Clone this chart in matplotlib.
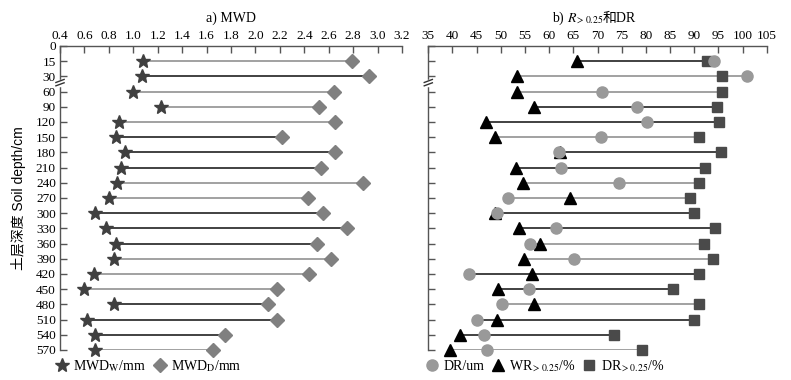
import numpy as np
import matplotlib.pyplot as plt
from matplotlib.lines import Line2D

plt.rcParams['font.family'] = ['Liberation Serif', 'Noto Sans CJK SC']
plt.rcParams['mathtext.fontset'] = 'stix'

# depth ticks (0 is only a tick, no data)
depth_labels = ['0', '15', '30', '60', '90', '120', '150', '180', '210', '240', '270',
                '300', '330', '360', '390', '420', '450', '480', '510', '540', '570']

# a) MWD
mwd_w = [1.08, 1.07, 1.00, 1.23, 0.88, 0.86, 0.93, 0.90, 0.87, 0.80,
         0.69, 0.78, 0.86, 0.84, 0.68, 0.60, 0.84, 0.62, 0.69, 0.69]
mwd_d = [2.79, 2.93, 2.64, 2.52, 2.65, 2.22, 2.65, 2.54, 2.88, 2.43,
         2.55, 2.75, 2.50, 2.62, 2.44, 2.18, 2.10, 2.18, 1.75, 1.65]

# b) R>0.25 and DR
dr_um = [94.1, 100.9, 71.0, 78.2, 80.2, 70.7, 62.1, 62.5, 74.5, 51.4,
         49.3, 61.4, 56.0, 65.2, 43.4, 55.8, 50.2, 45.0, 46.5, 47.1]
wr_025 = [65.8, 53.4, 53.4, 56.9, 46.9, 48.9, 62.2, 53.1, 54.5, 64.3,
          48.9, 53.8, 58.1, 54.7, 56.5, 49.4, 56.9, 49.2, 41.6, 39.5]
dr_025 = [92.7, 95.7, 95.7, 94.8, 95.2, 90.9, 95.5, 92.2, 90.9, 89.2,
          90.0, 94.3, 92.0, 93.8, 91.0, 85.7, 91.0, 90.0, 73.4, 79.3]

DK = '#333333'
LT = '#9a9a9a'
lines_a = [LT, DK, LT, LT, LT, DK, DK, DK, LT, LT,
           DK, DK, DK, LT, LT, LT, DK, DK, DK, LT]
lines_b = [DK, LT, LT, DK, DK, LT, DK, DK, LT, LT,
           DK, DK, LT, LT, DK, DK, LT, DK, DK, LT]

W, H = 791, 380
fig = plt.figure(figsize=(W / 100, H / 100), dpi=100)
ax1 = fig.add_axes([60 / W, 30 / H, 342 / W, 304 / H])
ax2 = fig.add_axes([428.3 / W, 30 / H, 338.4 / W, 304 / H])

ypos = np.arange(1, len(depth_labels))

# left panel
ax1.hlines(ypos, mwd_w, mwd_d, colors=lines_a, lw=1.3, zorder=1)
ax1.plot(mwd_w, ypos, ls='none', marker='*', ms=10.5, color='#404040', zorder=3, clip_on=False)
ax1.plot(mwd_d, ypos, ls='none', marker='D', ms=7, color='#808080', zorder=3, clip_on=False)

# right panel
lo = np.minimum(np.minimum(dr_um, wr_025), dr_025)
hi = np.maximum(np.maximum(dr_um, wr_025), dr_025)
ax2.hlines(ypos, lo, hi, colors=lines_b, lw=1.3, zorder=1)
ax2.plot(wr_025, ypos, ls='none', marker='^', ms=8.5, color='black', zorder=3, clip_on=False)
ax2.plot(dr_025, ypos, ls='none', marker='s', ms=6.5, color='#4a4a4a', zorder=4, clip_on=False)
ax2.plot(dr_um, ypos, ls='none', marker='o', ms=8, color='#999999', zorder=5, clip_on=False)

for ax in (ax1, ax2):
    ax.set_ylim(len(depth_labels) - 1, 0)
    ax.set_yticks(np.arange(len(depth_labels)))
    ax.xaxis.tick_top()
    ax.spines['right'].set_visible(False)
    ax.spines['bottom'].set_visible(False)
    for s in ('top', 'left'):
        ax.spines[s].set_color('#555555')
        ax.spines[s].set_linewidth(1.0)
    ax.tick_params(direction='in', length=5, width=1, color='#555555',
                   labelsize=9.5, pad=3)
    # axis break mark between 30 and 60
    tr = ax.get_yaxis_transform()
    ax.plot([0, 0], [2.28, 2.55], transform=tr, color='white', lw=2.5,
            clip_on=False, zorder=6)
    for yb in (2.3, 2.52):
        ax.plot([-0.012, 0.012], [yb + 0.1, yb - 0.1], transform=tr,
                color='#333333', lw=1, clip_on=False, zorder=7)

ax1.set_xlim(0.4, 3.2)
xt1 = np.arange(0.4, 3.21, 0.2)
ax1.set_xticks(xt1)
ax1.set_xticklabels(['%.1f' % v for v in xt1])
ax1.set_yticklabels(depth_labels)

ax2.set_xlim(35, 105)
ax2.set_xticks(np.arange(35, 106, 5))
ax2.set_yticklabels([])

ax1.set_ylabel('土层深度 Soil depth/cm', fontsize=10,
               family=['Liberation Sans', 'Noto Sans CJK SC'])
ax1.yaxis.set_label_coords(-0.1, 0.5)

# panel titles
ybase = 1 - 22 / H
fig.text(231 / W, ybase, 'a) MWD', ha='center', va='baseline', fontsize=10)
rend = fig.canvas.get_renderer()
tb1 = fig.text(0, ybase, 'b) $R_{>0.25}$', ha='left', va='baseline', fontsize=10)
tb2 = fig.text(0, ybase, '和DR', ha='left', va='baseline', fontsize=10)
w1 = tb1.get_window_extent(rend).width
w2 = tb2.get_window_extent(rend).width
x0 = 594 - (w1 + w2) / 2
tb1.set_x(x0 / W)
tb2.set_x((x0 + w1) / W)

h1 = [Line2D([], [], ls='none', marker='*', ms=10.5, color='#404040'),
      Line2D([], [], ls='none', marker='D', ms=7, color='#808080')]
ax1.legend(h1, ['MWD$_\\mathrm{W}$/mm', 'MWD$_\\mathrm{D}$/mm'],
           loc='center left', bbox_to_anchor=(55 / W, 1 - 366 / H),
           bbox_transform=fig.transFigure, ncol=2, frameon=False,
           fontsize=10, handlelength=1.0, handletextpad=0.3,
           columnspacing=0.5, borderpad=0, borderaxespad=0)

h2 = [Line2D([], [], ls='none', marker='o', ms=8, color='#999999'),
      Line2D([], [], ls='none', marker='^', ms=8.5, color='black'),
      Line2D([], [], ls='none', marker='s', ms=6.5, color='#4a4a4a')]
ax2.legend(h2, ['DR/um', 'WR$_{>0.25}$/%', 'DR$_{>0.25}$/%'],
           loc='center left', bbox_to_anchor=(425 / W, 1 - 366 / H),
           bbox_transform=fig.transFigure, ncol=3, frameon=False,
           fontsize=10, handlelength=1.0, handletextpad=0.3,
           columnspacing=0.5, borderpad=0, borderaxespad=0)

fig.savefig('out.png', dpi=100)
